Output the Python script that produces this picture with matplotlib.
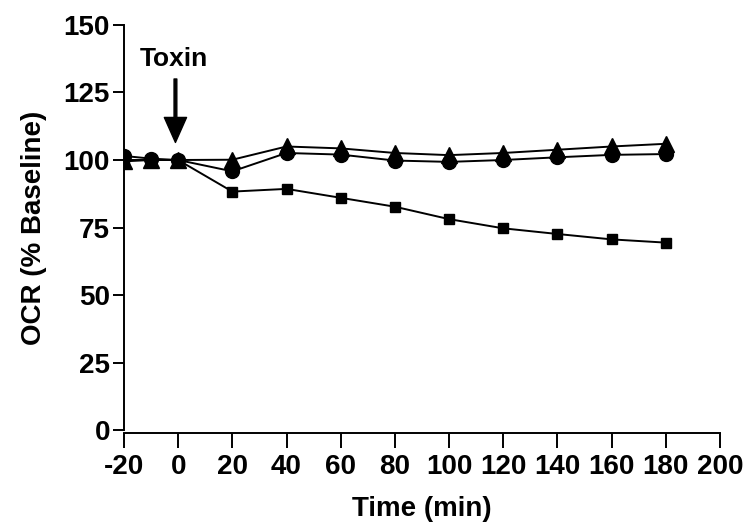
import matplotlib
matplotlib.use("Agg")
import matplotlib.pyplot as plt

# time points (min) and OCR (% baseline)
time = [-20, -10, 0, 20, 40, 60, 80, 100, 120, 140, 160, 180]
ocr_square = [100, 100, 100, 88.3, 89.3, 86.0, 82.7, 78.1, 74.7, 72.6, 70.6, 69.4]
ocr_circle = [101.5, 100.5, 100, 95.8, 102.6, 102.0, 99.8, 99.3, 100.0, 101.0, 101.9, 102.2]
ocr_triangle = [99.5, 100, 100, 100.1, 105.0, 104.3, 102.6, 101.8, 102.6, 103.8, 105.0, 106.0]

xticks = list(range(-20, 201, 20))
yticks = [0, 25, 50, 75, 100, 125, 150]

plt.rcParams["font.family"] = ["Liberation Sans", "DejaVu Sans"]
plt.rcParams["font.weight"] = "bold"
plt.rcParams["axes.unicode_minus"] = False

fig = plt.figure(figsize=(7.45, 5.27), dpi=100)
ax = fig.add_axes([0.1664, 0.184, 0.80, 0.7686])

ax.plot(time, ocr_square, "-", color="black", lw=1.4, marker="s", ms=7.5, zorder=3)
ax.plot(time, ocr_circle, "-", color="black", lw=1.4, marker="o", ms=10, zorder=3)
ax.plot(time, ocr_triangle, "-", color="black", lw=1.4, marker="^", ms=11, zorder=3)

ax.annotate("", xy=(-1, 106.5), xytext=(-1, 130),
            arrowprops=dict(facecolor="black", edgecolor="black",
                            width=2, headwidth=16, headlength=18))
ax.text(-1.5, 137.5, "Toxin", ha="center", va="center", fontsize=19, fontweight="bold")

ax.set_xlim(-20, 200)
ax.set_ylim(0, 150)
ax.set_xticks(xticks)
ax.set_yticks(yticks)
ax.spines["top"].set_visible(False)
ax.spines["right"].set_visible(False)
ax.spines["left"].set_linewidth(1.4)
ax.spines["bottom"].set_linewidth(1.4)
ax.spines["bottom"].set_position(("outward", 2))
ax.tick_params(axis="x", length=11, width=1.4, labelsize=20, pad=4)
ax.tick_params(axis="y", length=8, width=1.4, labelsize=20, pad=2)
for lab in ax.get_xticklabels() + ax.get_yticklabels():
    lab.set_fontweight("bold")

ax.set_xlabel("Time (min)", fontsize=20, fontweight="bold", labelpad=12)
ax.set_ylabel("OCR (% Baseline)", fontsize=20, fontweight="bold", labelpad=12)

fig.savefig("out.png", dpi=100)
